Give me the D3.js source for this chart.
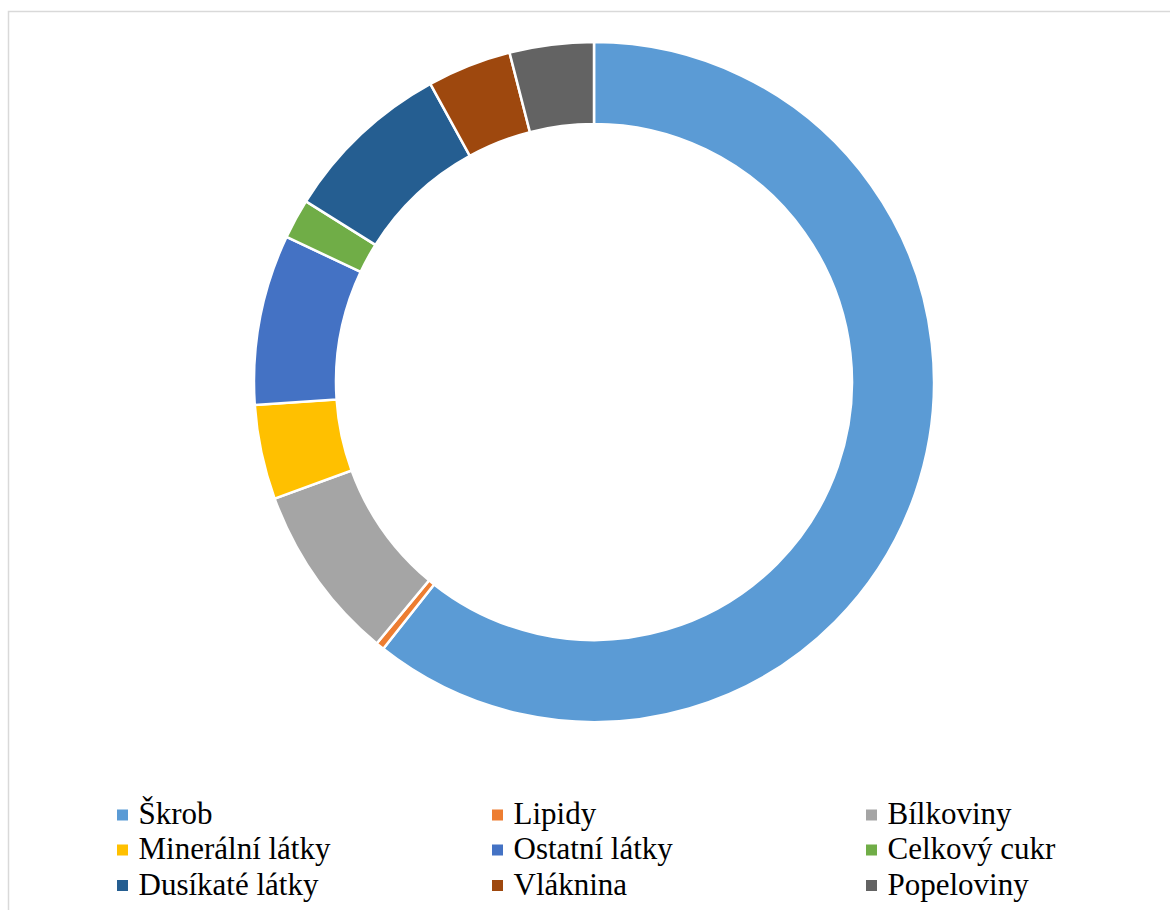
<!DOCTYPE html>
<html>
<head>
<meta charset="utf-8">
<script src="https://cdn.jsdelivr.net/npm/d3@7"></script>
<style>
  html, body { margin: 0; padding: 0; background: #fff; }
  svg { display: block; }
</style>
</head>
<body>
<svg id="chart" width="1170" height="910"></svg>
<script>
// Composition shares (%)
const categories = ["Škrob", "Lipidy", "Bílkoviny", "Minerální látky", "Ostatní látky",
                    "Celkový cukr", "Dusíkaté látky", "Vláknina", "Popeloviny"];
const shares = [60.7, 0.4, 8.4, 4.5, 8.1, 1.9, 8.1, 4.0, 4.0];
const colors = ["#5B9BD5", "#ED7D31", "#A5A5A5", "#FFC000", "#4472C4",
                "#70AD47", "#255E91", "#9E480E", "#636363"];

const svg = d3.select("#chart");

// chart area frame
svg.append("path")
  .attr("d", "M8.5,910 L8.5,11.5 L1170,11.5")
  .attr("fill", "none")
  .attr("stroke", "#d9d9d9")
  .attr("stroke-width", 1.5);

const data = categories.map((c, i) => ({ name: c, value: shares[i], color: colors[i] }));

const pie = d3.pie().value(d => d.value).sort(null);
const arc = d3.arc().innerRadius(258).outerRadius(340);

const g = svg.append("g").attr("transform", "translate(594,382)");
g.selectAll("path.slice")
  .data(pie(data))
  .join("path")
  .attr("class", "slice")
  .attr("d", arc)
  .attr("fill", d => d.data.color)
  .attr("stroke", "#fff")
  .attr("stroke-width", 2.5)
  .attr("stroke-linejoin", "miter");

// legend: three columns, three rows
const colX = d3.scaleOrdinal().domain([0, 1, 2]).range([117, 492, 866]);
const rowY = d3.scaleOrdinal().domain([0, 1, 2]).range([815, 850, 885.5]);

const legend = svg.append("g").attr("class", "legend");
const items = legend.selectAll("g.item")
  .data(data)
  .join("g")
  .attr("class", "item")
  .attr("transform", (d, i) => `translate(${colX(i % 3)},${rowY(Math.floor(i / 3))})`);

items.append("rect")
  .attr("x", 0).attr("y", -5.5)
  .attr("width", 11).attr("height", 11)
  .attr("fill", d => d.color);

items.append("text")
  .attr("x", 21.5)
  .attr("y", 9)
  .style("font-family", '"Liberation Serif", "Times New Roman", serif')
  .style("font-size", "31px")
  .style("fill", "#000")
  .text(d => d.name);
</script>
</body>
</html>
